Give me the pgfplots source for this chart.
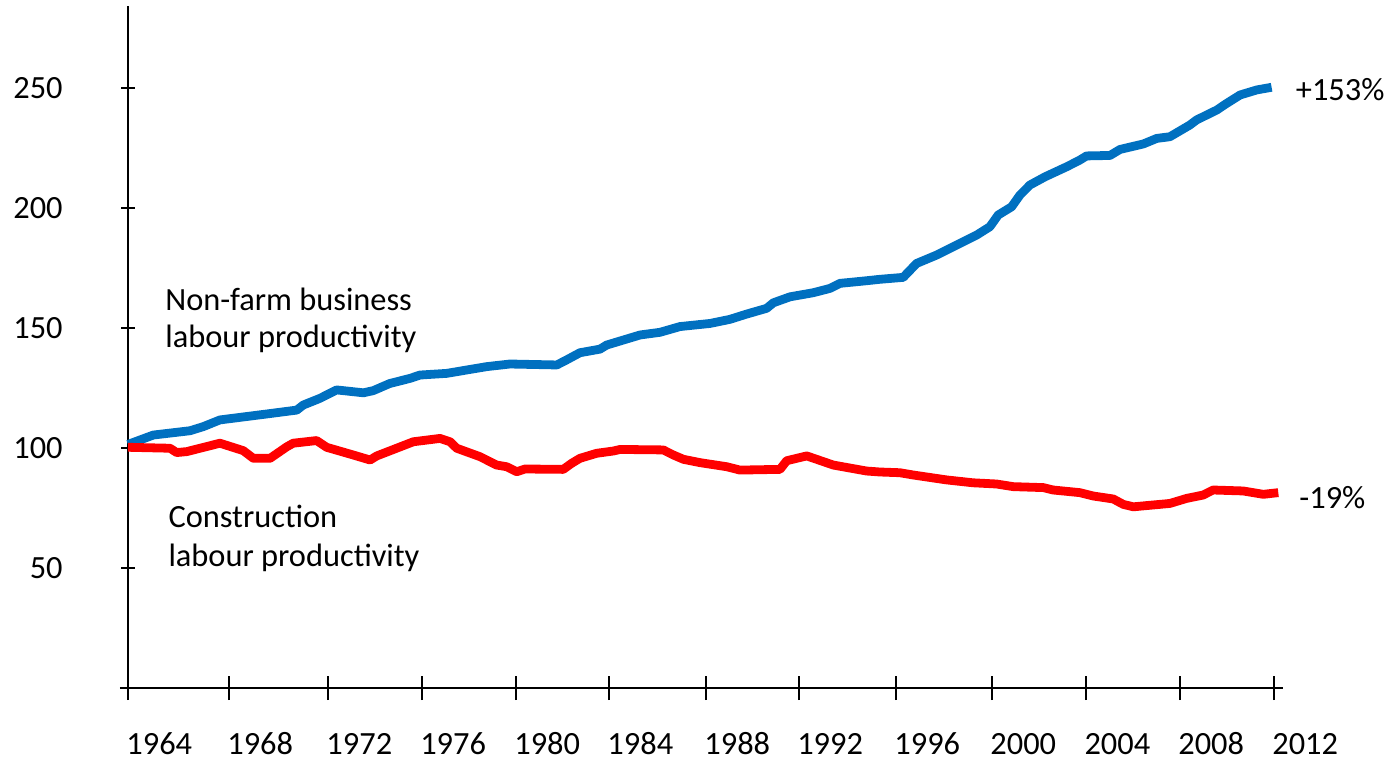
\documentclass[border=0pt]{standalone}
\usepackage{pgfplots}
\pgfplotsset{compat=1.18}
\usepackage{fontspec}
\setmainfont{Carlito}
\definecolor{nfblue}{HTML}{0070C0}
\definecolor{conred}{HTML}{FF0000}
\pgfplotsset{base/.style={
  at={(0,0)}, anchor=south west,
  scale only axis, width=573pt, height=341pt,
  xmin=1964, xmax=2012, ymin=0, ymax=284.17,
  tick align=outside,
  tick style={line width=1.2pt, black},
  tick label style={font=\fontsize{16.2}{19}\selectfont},
  /pgf/number format/assume math mode=true,
}}
\begin{document}
\begin{tikzpicture}
\path[use as bounding box] (-64pt,-37pt) rectangle (630.5pt,344pt);
% y axis with its ticks and labels
\begin{axis}[base,
  axis y line=left, axis x line=none,
  axis line style={-, line width=1.2pt, black},
  major tick length=7pt,
  ytick={50,100,150,200,250},
  yticklabel style={anchor=east, inner sep=0pt, xshift=-29pt},
]
\end{axis}
% x axis and data
\begin{axis}[base,
  axis x line=bottom, axis y line=none,
  axis line style={-, line width=1.2pt, black},
  x axis line style={shorten <=-4pt, shorten >=-4.5pt},
  major tick length=12pt,
  xtick={1964,1968.23,1972.38,1976.31,1980.25,1984.15,1988.21,1992.10,1996.17,2000.19,2004.13,2008.06,2012},
  xticklabels={1964,1968,1972,1976,1980,1984,1988,1992,1996,2000,2004,2008,2012},
  xticklabel style={anchor=north west, inner sep=0pt, xshift=-1pt, yshift=-17pt, text height=10.2pt, text depth=0pt},
  clip=false,
]
\addplot[nfblue, line width=4.4pt, line join=round, line cap=butt] coordinates {
(1964.00,101.5) (1965.06,105.4) (1966.60,107.2) (1967.15,108.9) (1967.85,111.7)
(1969.67,114.0) (1971.07,115.8) (1971.34,117.9) (1972.04,120.7) (1972.74,124.2)
(1973.86,123.0) (1974.27,123.9) (1974.97,126.9) (1975.81,129.0) (1976.23,130.4)
(1977.35,131.1) (1979.02,133.9) (1980.00,135.0) (1981.96,134.6) (1982.37,136.7)
(1982.93,139.7) (1983.77,141.2) (1984.05,142.9) (1984.75,145.0) (1985.45,147.1)
(1986.28,148.2) (1987.12,150.6) (1988.38,151.9) (1989.21,153.6) (1989.91,155.8)
(1990.75,158.2) (1991.03,160.5) (1991.73,163.0) (1992.70,164.7) (1993.40,166.5)
(1993.82,168.6) (1994.94,169.7) (1995.50,170.3) (1996.47,171.1) (1997.03,176.9)
(1997.87,180.4) (1998.43,183.2) (1999.55,188.75) (2000.10,192.2) (2000.45,197.1)
(2001.01,200.5) (2001.36,205.4) (2001.78,209.6) (2002.41,213.0) (2003.32,217.2)
(2003.87,220.0) (2004.15,221.7) (2005.13,221.9) (2005.55,224.4) (2006.53,226.7)
(2007.09,229.0) (2007.64,229.7) (2008.48,234.6) (2008.76,236.7) (2009.60,240.8)
(2010.02,243.6) (2010.58,247.1) (2011.28,249.2) (2011.90,250.3)
};
\addplot[conred, line width=4.4pt, line join=round, line cap=butt] coordinates {
(1964.00,100.3) (1965.76,99.9) (1966.04,98.1) (1966.46,98.5) (1967.02,99.9)
(1967.85,102.0) (1968.83,98.9) (1969.25,95.7) (1969.95,95.7) (1970.65,100.5)
(1970.92,102.0) (1971.90,103.1) (1972.32,100.3) (1973.43,97.1) (1974.14,95.0)
(1974.42,96.7) (1975.25,99.9) (1975.95,102.6) (1977.07,104.0) (1977.49,102.6)
(1977.77,99.9) (1978.74,96.4) (1979.44,92.9) (1979.86,92.2) (1980.28,90.1)
(1980.63,91.25) (1982.23,91.1) (1982.58,93.6) (1982.93,95.7) (1983.63,97.8)
(1984.33,98.75) (1984.61,99.4) (1986.42,99.2) (1986.84,97.1) (1987.26,95.3)
(1987.96,93.9) (1989.08,92.2) (1989.63,90.8) (1991.31,91.1) (1991.59,94.7)
(1992.43,96.7) (1992.84,95.3) (1993.54,92.9) (1994.94,90.4) (1995.50,90.0)
(1996.33,89.7) (1996.89,88.75) (1998.29,86.7) (1999.40,85.5) (2000.38,85.0)
(2001.08,83.9) (2002.34,83.5) (2002.75,82.5) (2003.87,81.4) (2004.43,80.0)
(2005.27,78.75) (2005.69,76.5) (2006.11,75.5) (2007.64,76.9) (2008.34,79.0)
(2009.03,80.4) (2009.45,82.5) (2010.71,82.1) (2011.55,80.7) (2012.18,81.4)
};
\node[anchor=base west, inner sep=0pt, font=\fontsize{16.2}{19}\selectfont] at (axis cs:1965.55,157.1) {Non-farm business};
\node[anchor=base west, inner sep=0pt, font=\fontsize{16.2}{19}\selectfont] at (axis cs:1965.55,141.7) {labour productivity};
\node[anchor=base west, inner sep=0pt, font=\fontsize{16.2}{19}\selectfont] at (axis cs:1965.68,66.7) {Construction};
\node[anchor=base west, inner sep=0pt, font=\fontsize{16.2}{19}\selectfont] at (axis cs:1965.68,50.8) {labour productivity};
\node[anchor=base west, inner sep=0pt, font=\fontsize{16.2}{19}\selectfont] at (axis cs:2012.90,244.7) {+153\%};
\node[anchor=base west, inner sep=0pt, font=\fontsize{16.2}{19}\selectfont] at (axis cs:2013.05,75.0) {-19\%};
\end{axis}
\end{tikzpicture}
\end{document}
